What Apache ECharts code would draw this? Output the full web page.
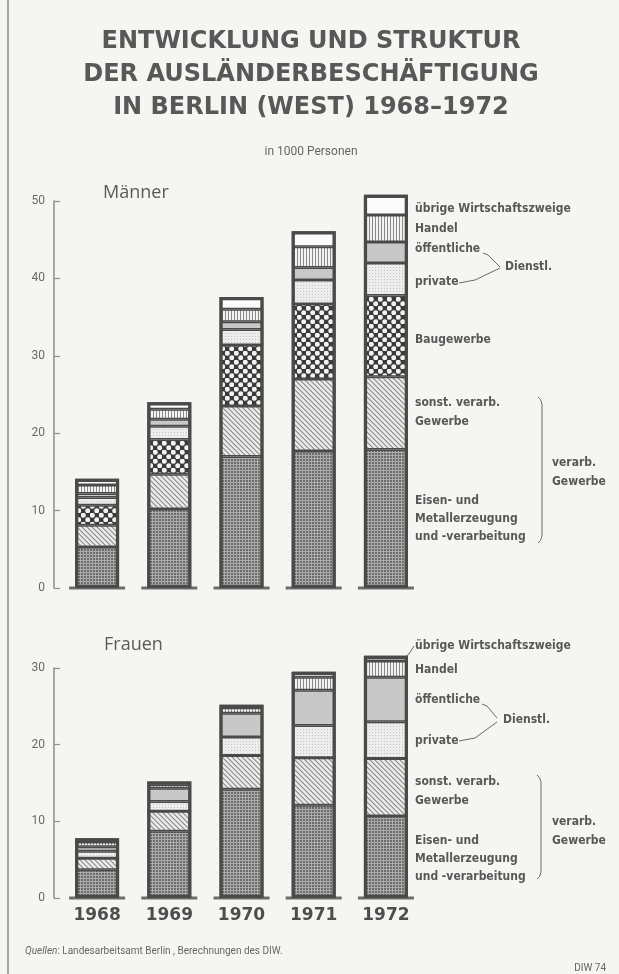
<!DOCTYPE html>
<html>
<head>
<meta charset="utf-8">
<script src="https://cdn.jsdelivr.net/npm/echarts@6/dist/echarts.min.js"></script>
<style>
  html, body { margin: 0; padding: 0; background: #f5f5f2; }
  #chart { width: 619px; height: 974px; }
</style>
</head>
<body>
<div id="chart"></div>
<script>
// Jahre
const years = ['1968', '1969', '1970', '1971', '1972'];

// Männer, in 1000 Personen (von unten nach oben)
const menEisen   = [5.3, 10.2, 17.0, 17.7, 17.9];
const menSonst   = [2.8, 4.5, 6.5, 9.3, 9.4];
const menBau     = [2.6, 4.5, 7.9, 9.7, 10.5];
const menPrivat  = [1.0, 1.7, 2.0, 3.1, 4.2];
const menOeff    = [0.5, 0.9, 1.0, 1.6, 2.7];
const menHandel  = [1.1, 1.3, 1.6, 2.7, 3.5];
const menUebrige = [0.8, 0.9, 1.6, 2.0, 2.6];

// Frauen
const womEisen   = [3.7, 8.7, 14.2, 12.1, 10.7];
const womSonst   = [1.5, 2.6, 4.4, 6.2, 7.5];
const womBau     = [0, 0, 0, 0, 0];
const womPrivat  = [0.9, 1.3, 2.4, 4.2, 4.8];
const womOeff    = [0.6, 1.7, 3.1, 4.6, 5.8];
const womHandel  = [0.6, 0.5, 0.7, 1.7, 2.1];
const womUebrige = [0.5, 0.4, 0.4, 0.7, 0.7];

const menTicks = [0, 10, 20, 30, 40, 50];
const womTicks = [0, 10, 20, 30];

const segNames = ['Eisen- und Metallerzeugung', 'sonst. verarb. Gewerbe', 'Baugewerbe',
  'private Dienstl.', 'öffentliche Dienstl.', 'Handel', 'übrige Wirtschaftszweige'];

const ink = '#4a4a4a';
const txt = '#585858';
const labelFont = '"DejaVu Sans Condensed", "Open Sans", sans-serif';

// Schraffuren als Canvas-Muster
function pattern(w, h, draw) {
  const c = document.createElement('canvas');
  c.width = w; c.height = h;
  draw(c.getContext('2d'), w, h);
  return { image: c, repeat: 'repeat' };
}
const fills = [
  pattern(3, 3, (g) => { g.fillStyle = '#ababab'; g.fillRect(0, 0, 3, 3); g.fillStyle = '#6c6c6c'; g.fillRect(0, 0, 2, 2); }),
  pattern(5, 5, (g, s) => {
    g.fillStyle = '#ececec'; g.fillRect(0, 0, s, s);
    g.strokeStyle = '#8a8a8a'; g.lineWidth = 1.1;
    g.beginPath();
    g.moveTo(0, 0); g.lineTo(s, s);
    g.moveTo(-1, s - 1); g.lineTo(1, s + 1);
    g.moveTo(s - 1, -1); g.lineTo(s + 1, 1);
    g.stroke();
  }),
  pattern(9, 9, (g) => {
    g.fillStyle = '#3a3a3a'; g.fillRect(0, 0, 9, 9);
    g.fillStyle = '#f2f2f2';
    g.beginPath(); g.arc(2.25, 2.25, 2.5, 0, Math.PI * 2); g.fill();
    g.beginPath(); g.arc(6.75, 6.75, 2.5, 0, Math.PI * 2); g.fill();
  }),
  pattern(3, 3, (g) => { g.fillStyle = '#ededed'; g.fillRect(0, 0, 3, 3); g.fillStyle = '#c2c2c2'; g.fillRect(0, 0, 1, 1); }),
  '#c8c8c8',
  pattern(3, 1, (g) => { g.fillStyle = '#f3f3f3'; g.fillRect(0, 0, 3, 1); g.fillStyle = '#8a8a8a'; g.fillRect(0, 0, 1, 1); }),
  '#fbfbfb'
];

const menData = [menEisen, menSonst, menBau, menPrivat, menOeff, menHandel, menUebrige];
const womData = [womEisen, womSonst, womBau, womPrivat, womOeff, womHandel, womUebrige];

function sumUp(arrs) {
  return years.map((_, i) => +arrs.reduce((s, a) => s + a[i], 0).toFixed(1));
}

function seriesFor(data, g) {
  const out = data.map((vals, k) => ({
    name: segNames[k], type: 'bar', stack: 'st' + g, clip: false,
    xAxisIndex: g, yAxisIndex: g, barWidth: 44, barGap: '-100%',
    itemStyle: { color: fills[k], borderColor: ink, borderWidth: 1.5 },
    data: vals
  }));
  out.push({
    type: 'bar', xAxisIndex: g, yAxisIndex: g, barWidth: 44, barGap: '-100%', z: 3, clip: false,
    itemStyle: { color: 'rgba(0,0,0,0)', borderColor: ink, borderWidth: 3.2 },
    data: sumUp(data)
  });
  // Sockel unter jeder Säule
  out.push({
    type: 'scatter', xAxisIndex: g, yAxisIndex: g, symbol: 'rect', symbolSize: [56, 3], z: 4, clip: false,
    itemStyle: { color: ink },
    data: years.map((y) => [y, 0])
  });
  return out;
}

function yAx(g, ticks) {
  return {
    type: 'value', gridIndex: g, min: ticks[0], max: ticks[ticks.length - 1], interval: 10,
    offset: 7,
    axisLine: { show: true, lineStyle: { color: '#8c8c92', width: 1.5 } },
    axisTick: { show: true, inside: true, length: 6, lineStyle: { color: '#8c8c92', width: 1.2 } },
    axisLabel: { color: '#6a6a6a', fontSize: 12, margin: 9, fontFamily: 'Roboto, sans-serif' },
    splitLine: { show: false }
  };
}

function t(x, y, s, opt) {
  return Object.assign({ type: 'text', x: x, y: y,
    style: Object.assign({ text: s, fill: txt, font: 'bold 12px ' + labelFont, textVerticalAlign: 'middle' }, opt || {}) });
}
function line(pts) {
  return { type: 'polyline', shape: { points: pts }, style: { stroke: '#6a6a6a', lineWidth: 1, fill: null } };
}
function brace(x, y0, y1) {
  return line([[x - 4, y0], [x - 1.5, y0 + 2.5], [x, y0 + 7], [x, y1 - 7], [x - 1.5, y1 - 2.5], [x - 4, y1]]);
}

const titleFont = 'bold 24px "DejaVu Sans", sans-serif';

const chart = echarts.init(document.getElementById('chart'));
chart.setOption({
  backgroundColor: '#f5f5f2',
  animation: false,
  grid: [
    { left: 61, width: 361, top: 201, height: 387 },
    { left: 61, width: 361, top: 668, height: 230 }
  ],
  xAxis: [
    { type: 'category', gridIndex: 0, data: years, axisLine: { show: false }, axisTick: { show: false }, axisLabel: { show: false } },
    { type: 'category', gridIndex: 1, data: years, axisLine: { show: false }, axisTick: { show: false },
      axisLabel: { color: '#4e4e4e', fontSize: 17, fontWeight: 'bold', margin: 9, fontFamily: '"DejaVu Sans", sans-serif' } }
  ],
  yAxis: [yAx(0, menTicks), yAx(1, womTicks)],
  series: seriesFor(menData, 0).concat(seriesFor(womData, 1)),
  graphic: [
    { type: 'line', shape: { x1: 8, y1: 0, x2: 8, y2: 974 }, style: { stroke: '#8a8a8a', lineWidth: 1.5 } },
    t(311, 42, 'ENTWICKLUNG UND STRUKTUR', { font: titleFont, textAlign: 'center' }),
    t(311, 75, 'DER AUSLÄNDERBESCHÄFTIGUNG', { font: titleFont, textAlign: 'center' }),
    t(311, 108, 'IN BERLIN (WEST) 1968–1972', { font: titleFont, textAlign: 'center' }),
    t(311, 152, 'in 1000 Personen', { font: '12px Roboto, sans-serif', textAlign: 'center', fill: '#666' }),
    t(103, 193, 'Männer', { font: '18px "Open Sans", sans-serif', fill: '#5a5a5a' }),
    t(104, 645, 'Frauen', { font: '18px "Open Sans", sans-serif', fill: '#5a5a5a' }),

    // Männer-Beschriftung
    t(415, 209, 'übrige Wirtschaftszweige'),
    t(415, 229, 'Handel'),
    t(415, 249, 'öffentliche'),
    t(415, 282, 'private'),
    t(505, 267, 'Dienstl.'),
    line([[483, 253], [488, 255], [500, 267]]),
    line([[459, 283], [475, 280], [500, 268]]),
    t(415, 340, 'Baugewerbe'),
    t(415, 403, 'sonst. verarb.'),
    t(415, 422, 'Gewerbe'),
    t(415, 501, 'Eisen- und'),
    t(415, 519, 'Metallerzeugung'),
    t(415, 537, 'und -verarbeitung'),
    brace(542, 397, 543),
    t(552, 463, 'verarb.'),
    t(552, 482, 'Gewerbe'),

    // Frauen-Beschriftung
    t(415, 646, 'übrige Wirtschaftszweige'),
    line([[404, 658], [409, 654], [414, 646]]),
    t(415, 670, 'Handel'),
    t(415, 700, 'öffentliche'),
    t(415, 741, 'private'),
    t(503, 720, 'Dienstl.'),
    line([[482, 704], [487, 706], [497, 718]]),
    line([[459, 741], [475, 738], [497, 722]]),
    t(415, 782, 'sonst. verarb.'),
    t(415, 801, 'Gewerbe'),
    t(415, 841, 'Eisen- und'),
    t(415, 859, 'Metallerzeugung'),
    t(415, 877, 'und -verarbeitung'),
    brace(541, 775, 879),
    t(552, 822, 'verarb.'),
    t(552, 841, 'Gewerbe'),

    // Quelle
    { type: 'text', x: 25, y: 951, style: { rich: {
        q: { font: 'italic 10px Roboto, sans-serif', fill: '#666' },
        r: { font: '10px Roboto, sans-serif', fill: '#666' } },
      text: '{q|Quellen}{r|: Landesarbeitsamt Berlin , Berechnungen des DIW.}', textVerticalAlign: 'middle' } },
    t(606, 968, 'DIW 74', { font: '10px Roboto, sans-serif', fill: '#666', textAlign: 'right' })
  ]
});
</script>
</body>
</html>
